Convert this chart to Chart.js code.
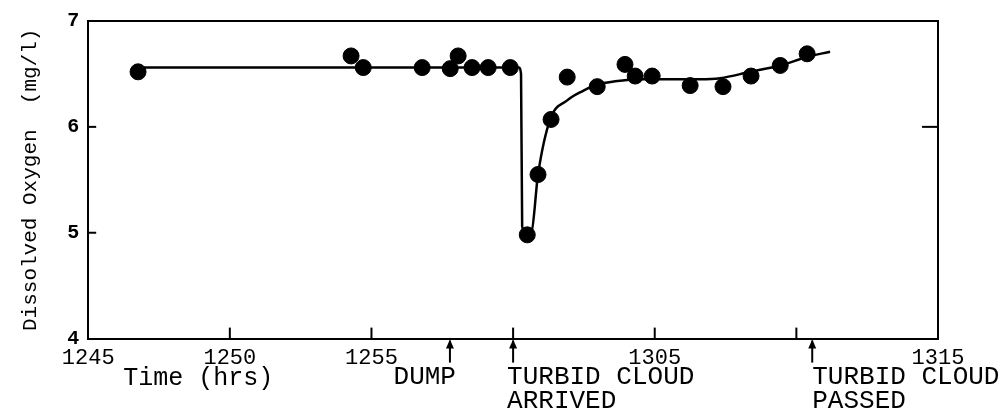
<!DOCTYPE html>
<html>
<head>
<meta charset="utf-8">
<script src="https://cdn.jsdelivr.net/npm/chart.js@4/dist/chart.umd.min.js"></script>
<style>
  html, body { margin: 0; padding: 0; background: #fff; }
  #wrap { width: 1006px; height: 418px; }
</style>
</head>
<body>
<div id="wrap"><canvas id="doChart" width="1006" height="418"></canvas></div>
<script>
// time is minutes after 12:45
const tickValues = [0, 5, 10, 15, 20, 25, 30];
const tickLabels = ['1245', '1250', '1255', '', '1305', '', '1315'];

// measured dissolved oxygen (mg/l)
const obsTime = [1.76, 9.28, 9.71, 11.79, 12.78, 13.06, 13.55, 14.12, 14.9, 15.5, 15.88, 16.34,
                 16.91, 17.97, 18.95, 19.31, 19.91, 21.25, 22.41, 23.4, 24.43, 25.38];
const obsDO = [6.52, 6.67, 6.56, 6.56, 6.55, 6.67, 6.56, 6.56, 6.56, 4.98, 5.55, 6.07,
               6.47, 6.38, 6.59, 6.48, 6.48, 6.39, 6.38, 6.48, 6.58, 6.69];

// hand drawn fit curve
const curveTime = [1.76, 15.21, 15.28, 15.32, 15.46, 15.64, 15.88, 16.31, 16.91, 17.47, 17.97,
                   18.6, 19.48, 21.6, 22.31, 23.37, 24.43, 25.38, 26.19];
const curveDO = [6.56, 6.56, 6.5, 5.06, 4.99, 5.0, 5.55, 6.07, 6.25, 6.34, 6.40,
                 6.43, 6.45, 6.45, 6.46, 6.52, 6.58, 6.66, 6.71];

// events marked under the time axis
const eventNames = ['DUMP', 'TURBID CLOUD|ARRIVED', 'TURBID CLOUD|PASSED'];
const eventTime = [12.77, 15.0, 25.56];

const FONT = '"Liberation Mono", "DejaVu Sans Mono", monospace';

const frameAndNotes = {
  id: 'frameAndNotes',
  afterDraw(chart) {
    const ctx = chart.ctx;
    const a = chart.chartArea;
    const xs = chart.scales.x, ys = chart.scales.y;
    ctx.save();
    ctx.strokeStyle = '#000';
    ctx.fillStyle = '#000';

    // top and right of the frame
    ctx.lineWidth = 2;
    ctx.beginPath();
    ctx.moveTo(a.left, a.top);
    ctx.lineTo(a.right, a.top);
    ctx.lineTo(a.right, a.bottom);
    ctx.stroke();

    // inward tick marks
    tickValues.slice(1, -1).forEach(v => {
      const px = xs.getPixelForValue(v);
      ctx.beginPath();
      ctx.moveTo(px, a.bottom);
      ctx.lineTo(px, a.bottom - 11);
      ctx.stroke();
    });
    [5, 6].forEach(v => {
      const py = ys.getPixelForValue(v);
      ctx.beginPath();
      ctx.moveTo(a.left, py);
      ctx.lineTo(a.left + 8, py);
      ctx.stroke();
    });
    const py6 = ys.getPixelForValue(6);
    ctx.beginPath();
    ctx.moveTo(a.right, py6);
    ctx.lineTo(a.right - 16, py6);
    ctx.stroke();

    // axis name, written under the left ticks
    ctx.font = '25px ' + FONT;
    ctx.textBaseline = 'middle';
    ctx.textAlign = 'left';
    ctx.fillText('Time (hrs)', a.left + 35, a.bottom + 40);

    // event arrows and captions
    eventTime.forEach((t, i) => {
      const px = xs.getPixelForValue(t);
      ctx.lineWidth = 2;
      ctx.beginPath();
      ctx.moveTo(px, a.bottom + 2);
      ctx.lineTo(px, a.bottom + 24);
      ctx.stroke();
      ctx.beginPath();
      ctx.moveTo(px, a.bottom + 1);
      ctx.lineTo(px - 4, a.bottom + 10);
      ctx.lineTo(px + 4, a.bottom + 10);
      ctx.closePath();
      ctx.fill();

      const lines = eventNames[i].split('|');
      ctx.font = '26px ' + FONT;
      if (lines.length === 1) {
        ctx.textAlign = 'right';
        ctx.fillText(lines[0], px + 6, a.bottom + 39);
      } else {
        ctx.textAlign = 'left';
        const off = i === 1 ? -6 : 0;
        ctx.fillText(lines[0], px + off, a.bottom + 39);
        ctx.fillText(lines[1], px + off, a.bottom + 63);
      }
    });
    ctx.restore();
  }
};

new Chart(document.getElementById('doChart').getContext('2d'), {
  type: 'scatter',
  data: {
    datasets: [{
      label: 'Measured',
      data: obsTime.map((t, i) => ({ x: t, y: obsDO[i] })),
      pointRadius: 8,
      pointHoverRadius: 8,
      backgroundColor: '#000',
      borderColor: '#000',
      showLine: false
    }, {
      label: 'Fit',
      data: curveTime.map((t, i) => ({ x: t, y: curveDO[i] })),
      showLine: true,
      pointRadius: 0,
      borderColor: '#000',
      borderWidth: 2.5,
      cubicInterpolationMode: 'monotone'
    }]
  },
  options: {
    responsive: false,
    animation: false,
    layout: { padding: { left: 18, right: 68, top: 5, bottom: 41 } },
    plugins: { legend: { display: false }, tooltip: { enabled: false } },
    scales: {
      x: {
        type: 'linear',
        min: 0,
        max: 30,
        afterBuildTicks: s => { s.ticks = tickValues.map(v => ({ value: v })); },
        ticks: {
          color: '#000',
          font: { family: FONT, size: 22 },
          padding: 6,
          maxRotation: 0,
          autoSkip: false,
          callback: v => tickLabels[tickValues.indexOf(v)]
        },
        grid: { display: false, drawTicks: false },
        border: { display: true, color: '#000', width: 2 }
      },
      y: {
        min: 4,
        max: 7,
        ticks: {
          stepSize: 1,
          color: '#000',
          font: { family: FONT, size: 20, weight: 'bold' },
          padding: 9
        },
        grid: { display: false, drawTicks: false },
        border: { display: true, color: '#000', width: 2 },
        title: {
          display: true,
          text: 'Dissolved Oxygen  (mg/l)',
          color: '#000',
          font: { family: FONT, size: 21 },
          padding: { top: 0, bottom: 15 }
        }
      }
    }
  },
  plugins: [frameAndNotes]
});
</script>
</body>
</html>
